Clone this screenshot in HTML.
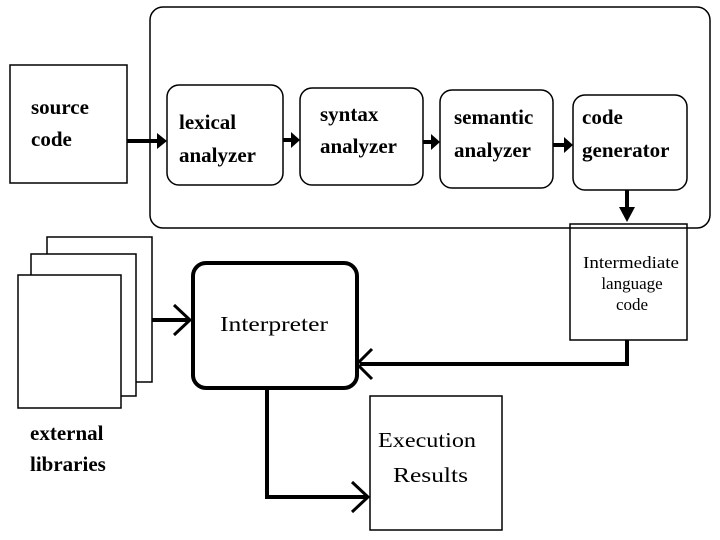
<!DOCTYPE html>
<html><head><meta charset="utf-8"><style>
html,body{margin:0;padding:0;background:#fff;}
svg{display:block;}
text{font-family:"Liberation Serif",serif;fill:#000;}
.b{font-weight:bold;font-size:21px;}
.n{font-size:21px;}
</style></head><body>
<svg width="720" height="540" viewBox="0 0 720 540" xmlns="http://www.w3.org/2000/svg">
<g fill="none" stroke="#000">
<rect x="150" y="7" width="560" height="221" rx="13" stroke-width="1.5"/>
<rect x="10" y="65" width="117" height="118" stroke-width="1.5"/>
<rect x="167" y="85" width="116" height="100" rx="12" stroke-width="1.5"/>
<rect x="300" y="88" width="123" height="97" rx="12" stroke-width="1.5"/>
<rect x="440" y="90" width="113" height="98" rx="12" stroke-width="1.5"/>
<rect x="573" y="95" width="114" height="95" rx="12" stroke-width="1.5"/>
<rect x="570" y="224" width="117" height="116" stroke-width="1.5"/>
<rect x="47" y="237" width="105" height="145" fill="#fff" stroke-width="1.5"/>
<rect x="31" y="254" width="105" height="142" fill="#fff" stroke-width="1.5"/>
<rect x="18" y="275" width="103" height="133" fill="#fff" stroke-width="1.5"/>
<rect x="193" y="263" width="164" height="125" rx="13" stroke-width="4"/>
<rect x="370" y="396" width="132" height="134" stroke-width="1.5"/>
<!-- thick connectors -->
<g stroke-width="4">
<line x1="127" y1="141" x2="163" y2="141"/>
<line x1="283" y1="140" x2="296" y2="140"/>
<line x1="423" y1="142" x2="436" y2="142"/>
<line x1="553" y1="145" x2="569" y2="145"/>
<line x1="627" y1="190" x2="627" y2="210"/>
<line x1="152" y1="320" x2="188" y2="320"/>
<polyline points="627,340 627,364 360,364"/>
<polyline points="267,388 267,497 366,497"/>
</g>
<g stroke-width="3">
<polyline points="174,305 190,320 174,335"/>
<polyline points="372,349 357,364 372,379"/>
<polyline points="352,482 368,497 352,512"/>
</g>
</g>
<g fill="#000">
<polygon points="157,133 167,141 157,149"/>
<polygon points="291,132 300,140 291,148"/>
<polygon points="431,134 440,142 431,150"/>
<polygon points="564,137 573,145 564,153"/>
<polygon points="619,207 635,207 627,222"/>
</g>
<text class="b" x="31" y="114">source</text>
<text class="b" x="31" y="146">code</text>
<text class="b" x="179" y="129">lexical</text>
<text class="b" x="179" y="162">analyzer</text>
<text class="b" x="320" y="121">syntax</text>
<text class="b" x="320" y="153">analyzer</text>
<text class="b" x="454" y="124">semantic</text>
<text class="b" x="454" y="157">analyzer</text>
<text class="b" x="582" y="124">code</text>
<text class="b" x="582" y="157">generator</text>
<text x="631" y="268" font-size="17" text-anchor="middle" textLength="96" lengthAdjust="spacingAndGlyphs">Intermediate</text>
<text x="632" y="289" font-size="17" text-anchor="middle">language</text>
<text x="632" y="310" font-size="17" text-anchor="middle">code</text>
<text class="n" x="220" y="331" font-size="22" textLength="108" lengthAdjust="spacingAndGlyphs">Interpreter</text>
<text class="b" x="30" y="440">external</text>
<text class="b" x="30" y="471">libraries</text>
<text class="n" x="378" y="447" textLength="98" lengthAdjust="spacingAndGlyphs">Execution</text>
<text class="n" x="393" y="482" textLength="75" lengthAdjust="spacingAndGlyphs">Results</text>
</svg>
</body></html>
